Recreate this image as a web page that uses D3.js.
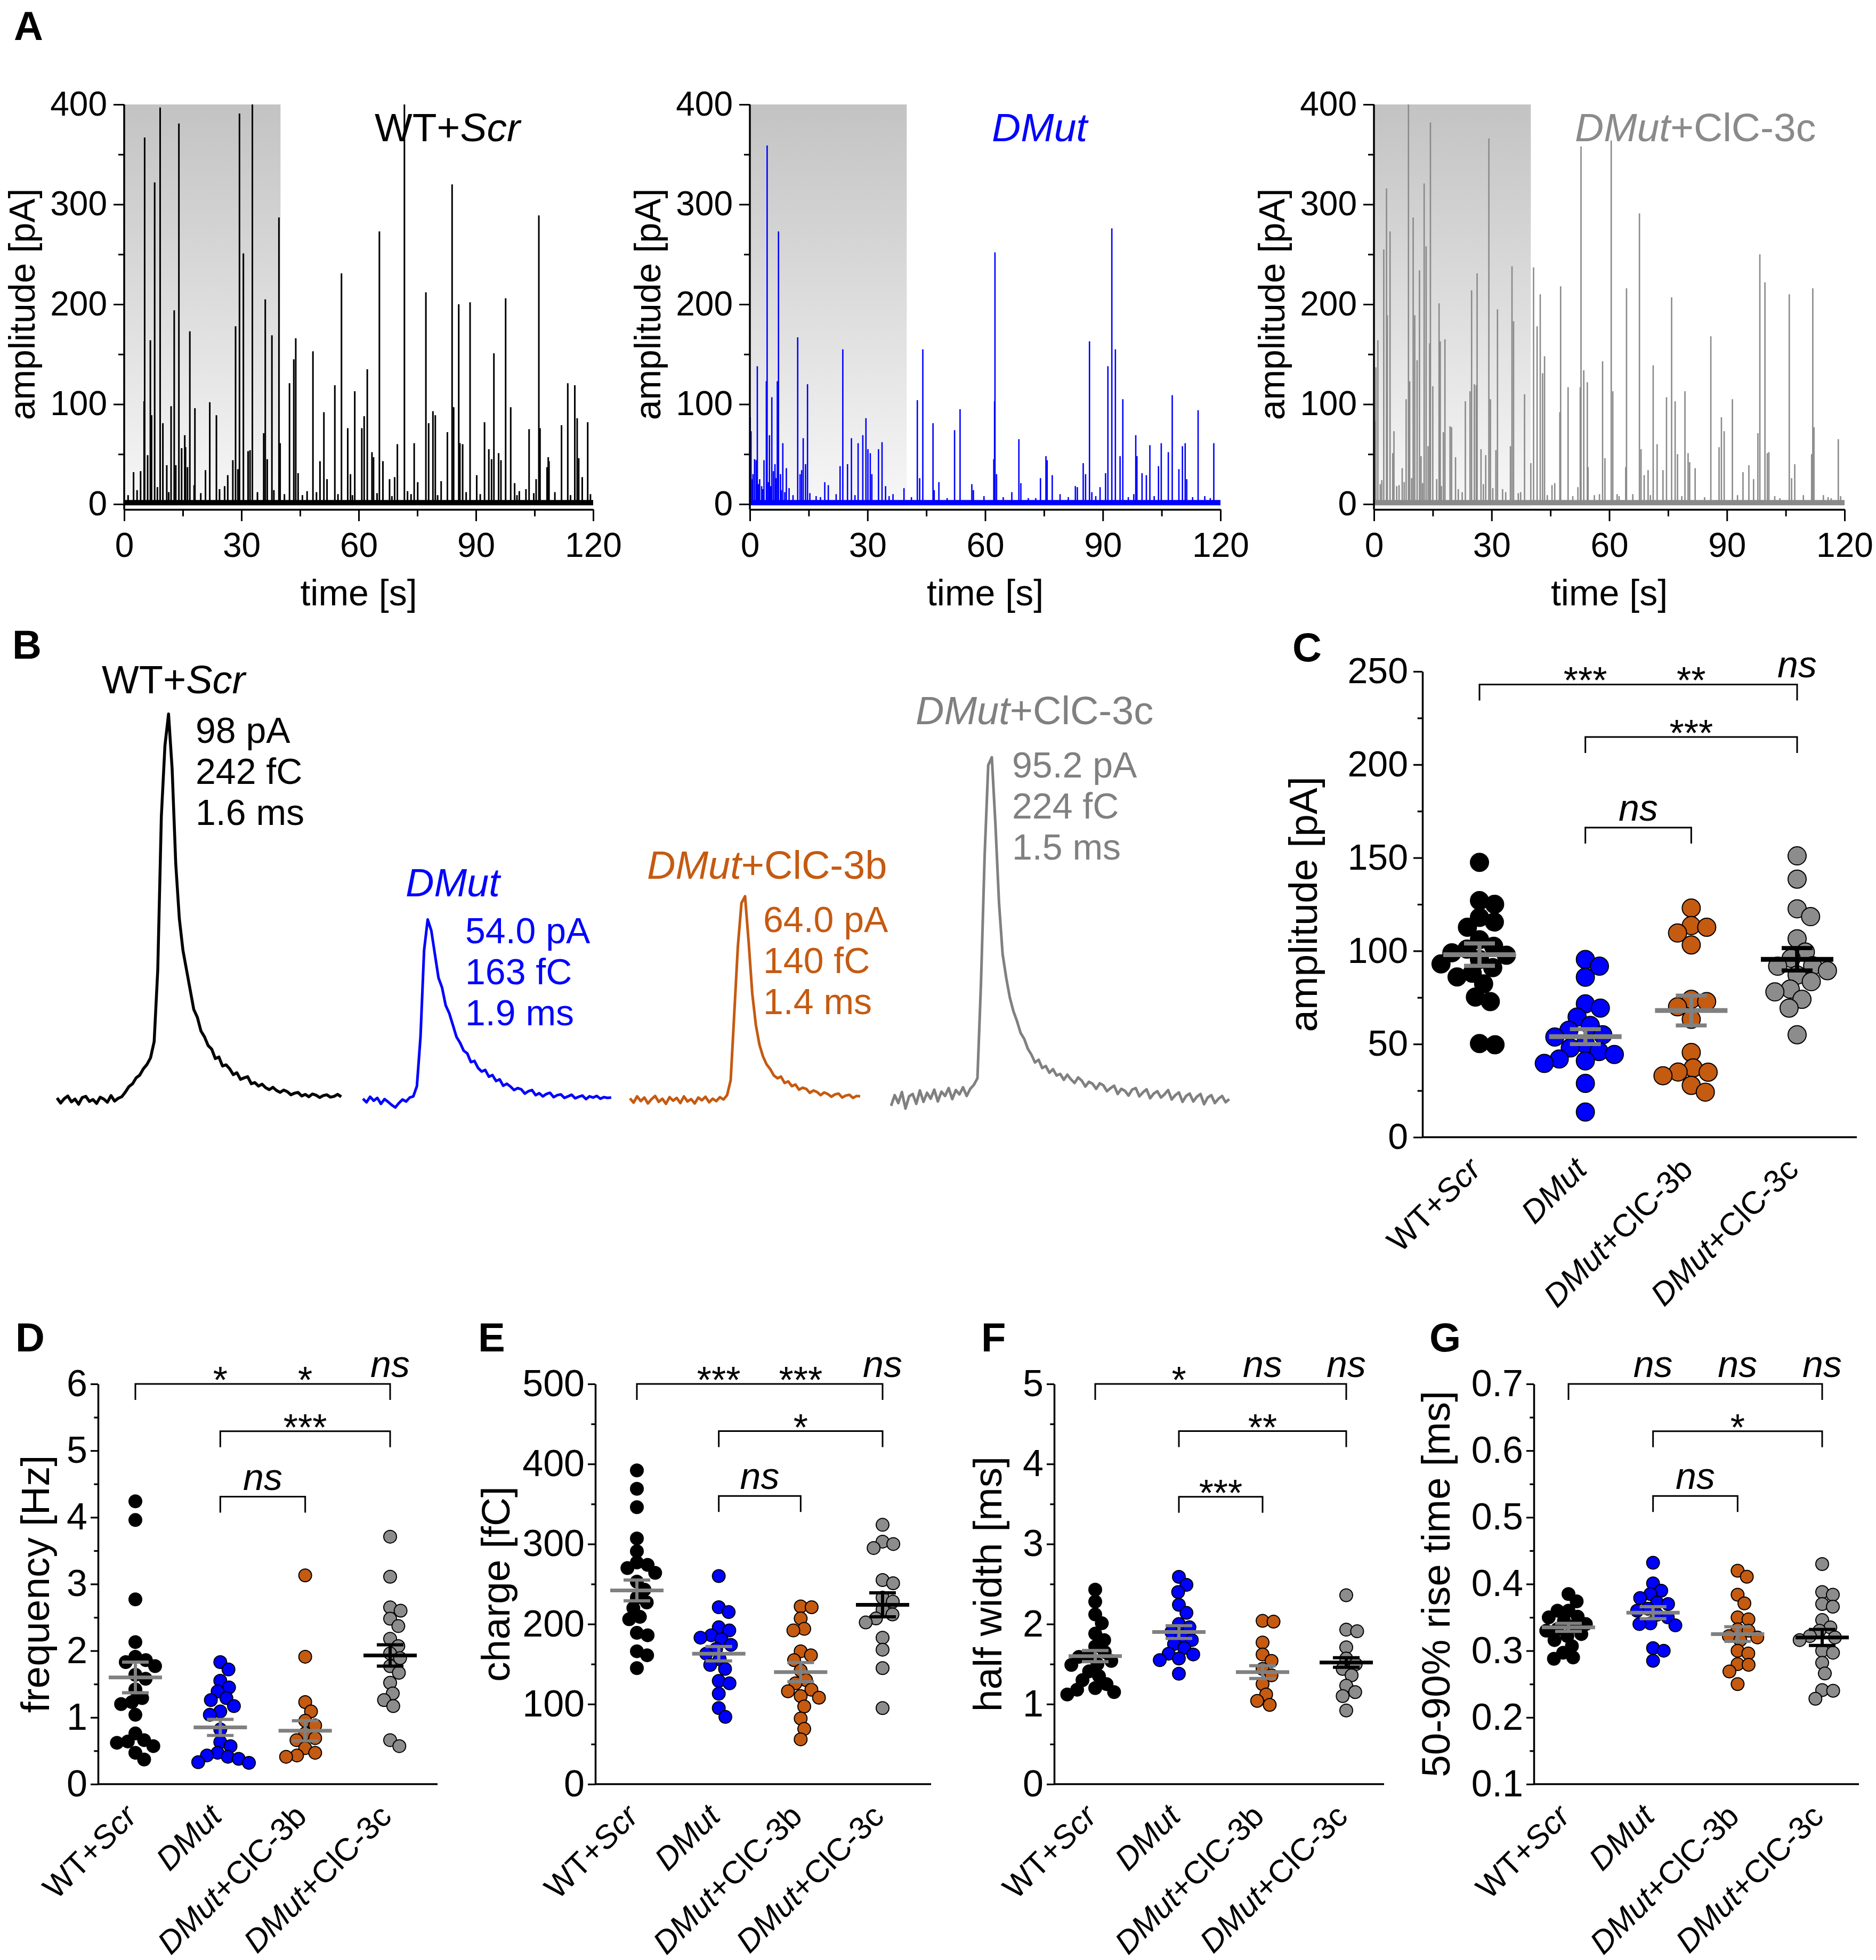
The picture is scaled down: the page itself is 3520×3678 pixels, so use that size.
<!DOCTYPE html>
<html><head><meta charset="utf-8">
<script src="https://cdn.jsdelivr.net/npm/d3@7/dist/d3.min.js"></script>
<style>html,body{margin:0;padding:0;background:#fff}</style>
</head><body>
<svg id="fig" xmlns="http://www.w3.org/2000/svg" width="3520" height="3678"></svg>
<script>
const FONT = "'Liberation Sans', Arial, Helvetica, sans-serif";

// ---------------- shared categories ----------------
const groups = ["WT+Scr", "DMut", "DMut+ClC-3b", "DMut+ClC-3c"];
const groupLabelParts = [[["WT+", false], ["Scr", true]], [["DMut", true]], [["DMut", true], ["+ClC-3b", false]], [["DMut", true], ["+ClC-3c", false]]];
const groupColors = ["#000000", "#0000ff", "#c55a11", "#8c8c8c"];
const meanColors = ["#808080", "#808080", "#808080", "#000000"];

// ---------------- panel A: event amplitudes [time s, amplitude pA] ----------------
const timeTicks = [0, 30, 60, 90, 120];
const timeMinor = [15, 45, 75, 105];
const ampTicksA = [0, 100, 200, 300, 400];
const ampMinorA = [50, 150, 250, 350];
const stimWindow = [0, 40];
const wtEvents = [[1.0,9],[2.4,32],[4.2,33],[5.1,103],[5.24,367],[6.0,49],[6.7,164],[7.0,89],[7.8,322],[9.2,397],[9.9,81],[10.9,39],[12.0,98],[12.8,194],[13.2,39],[14.0,381],[14.7,56],[15.5,69],[15.7,57],[16.2,37],[16.8,173],[17.9,19],[18.1,96],[20.8,34],[21.9,102],[23.6,89],[25.7,18],[26.5,29],[27.8,44],[28.5,178],[29.1,35],[29.5,391],[30.5,251],[31.7,53],[32.2,54],[32.8,400],[35.7,71],[36.1,205],[36.6,45],[37.8,169],[39.6,287],[39.9,61],[42.3,121],[43.4,145],[43.9,166],[44.5,31],[46.8,13],[48.3,153],[50.1,43],[51.1,92],[51.9,25],[53.9,119],[55.6,231],[57.2,76],[57.9,30],[59.0,113],[60.8,76],[61.4,88],[62.2,135],[63.4,52],[63.8,47],[65.3,273],[66.2,43],[67.9,25],[69.2,27],[69.9,60],[71.7,400],[72.5,13],[74.2,61],[75.1,22],[77.2,212],[77.9,81],[79.0,93],[79.6,89],[81.1,23],[82.7,72],[83.9,320],[84.3,97],[85.6,200],[85.9,61],[86.6,60],[88.5,202],[90.2,29],[92.2,82],[93.3,55],[94.0,45],[94.6,151],[95.8,51],[96.4,44],[97.6,206],[98.9,97],[99.9,21],[101.1,13],[102.8,15],[103.6,75],[105.4,25],[106.1,289],[106.4,76],[108.2,37],[108.5,47],[108.7,43],[111.9,79],[113.5,121],[115.3,119],[115.9,86],[116.3,46],[117.2,27],[118.6,82],[3.3,14],[8.5,17],[11.4,12],[19.6,11],[24.4,15],[34.1,12],[38.3,14],[41.0,10],[45.6,9],[49.2,12],[54.7,10],[58.4,9],[64.7,11],[68.5,8],[73.4,10],[80.2,9],[87.5,12],[91.1,10],[100.5,9],[104.8,11],[110.2,12],[114.2,9],[119.3,10]];
const dmutEvents = [[0.1,87],[0.3,73],[0.8,30],[1.2,45],[1.6,44],[1.9,138],[2.5,25],[3.0,18],[3.6,44],[4.2,123],[4.4,359],[5.0,69],[5.6,107],[6.0,33],[6.4,40],[7.0,123],[7.3,273],[7.8,30],[8.4,61],[9.3,36],[10.0,16],[12.2,167],[12.8,30],[13.2,34],[13.6,66],[14.2,40],[14.7,120],[16.9,8],[19.1,22],[20.0,19],[22.0,10],[23.0,38],[23.7,155],[24.9,40],[25.9,66],[27.6,61],[28.8,69],[29.6,86],[30.1,55],[30.7,51],[31.1,30],[32.8,55],[33.7,62],[34.6,18],[36.5,10],[39.3,16],[42.7,104],[43.3,26],[44.1,155],[46.7,81],[47.0,14],[48.2,22],[52.2,74],[53.6,95],[56.6,20],[57.0,14],[62.2,45],[62.4,103],[62.5,252],[62.9,30],[66.8,12],[68.6,65],[69.1,21],[72.9,6],[74.1,26],[75.5,48],[75.8,44],[77.1,29],[79.1,10],[83.0,18],[83.5,17],[85.0,41],[85.6,30],[86.6,163],[87.2,12],[89.3,17],[90.7,31],[91.3,138],[92.3,276],[93.2,155],[94.4,48],[95.1,105],[97.9,10],[98.4,69],[98.7,48],[100.0,31],[101.1,29],[102.0,59],[104.2,38],[104.9,61],[106.7,52],[107.7,109],[109.4,35],[110.3,58],[111.0,61],[111.4,25],[114.3,94],[116.0,8],[118.3,61],[0.6,25],[2.2,20],[3.3,15],[4.7,22],[5.3,18],[6.7,26],[8.0,14],[8.9,12],[11.0,9],[15.3,11],[18.0,7],[26.8,9],[35.5,8],[41.2,7],[50.3,6],[59.7,8],[64.6,7],[71.0,6],[81.2,7],[88.2,8],[96.5,7],[103.1,8],[112.9,7],[117.4,6]];
const clc3cEvents = [[0.4,83],[0.5,137],[1.0,164],[1.6,20],[2.5,255],[3.2,316],[3.4,189],[4.1,273],[4.8,51],[5.1,73],[5.8,18],[7.2,36],[7.7,22],[8.2,105],[8.8,400],[9.1,123],[10.0,287],[10.4,189],[11.0,144],[11.6,234],[12.0,48],[12.8,321],[13.3,258],[13.8,58],[14.2,161],[14.4,382],[15.0,118],[16.0,25],[16.6,201],[16.9,163],[17.7,72],[18.1,165],[19.4,78],[19.8,77],[20.8,47],[22.5,12],[23.3,103],[24.5,113],[24.9,214],[25.6,120],[26.1,119],[26.3,231],[27.3,55],[28.5,49],[29.3,366],[29.7,105],[31.1,54],[31.5,195],[32.8,15],[34.8,58],[35.2,238],[35.6,183],[37.4,12],[38.4,110],[40.0,41],[40.7,237],[41.6,178],[42.4,210],[43.0,131],[43.5,148],[45.4,19],[46.1,21],[47.4,92],[47.6,218],[49.5,117],[52.0,17],[52.6,117],[52.8,358],[53.5,134],[54.4,122],[54.6,37],[57.5,10],[58.3,143],[58.9,46],[60.5,364],[60.9,113],[62.5,8],[64.2,37],[64.4,216],[66.0,10],[67.7,291],[68.1,55],[68.9,29],[69.9,34],[71.2,139],[72.2,60],[73.7,34],[74.6,107],[75.9,207],[76.8,103],[77.4,50],[79.3,113],[80.1,51],[80.5,42],[81.9,36],[85.9,168],[88.0,57],[88.6,87],[89.3,73],[91.4,105],[94.1,32],[95.6,39],[96.8,25],[97.9,71],[98.4,250],[99.7,222],[100.3,51],[100.7,52],[103.5,6],[105.9,210],[106.5,26],[107.3,40],[111.6,50],[111.9,216],[112.2,77],[114.6,9],[116.6,6],[118.4,65],[2.0,24],[6.4,19],[9.6,26],[12.4,21],[17.2,18],[21.5,15],[27.9,20],[30.3,16],[33.6,12],[36.8,11],[44.2,9],[50.7,8],[56.2,9],[62.0,10],[70.5,9],[78.5,8],[84.3,7],[92.7,9],[102.2,8],[109.5,9],[115.8,7],[119.0,8]];

// ---------------- panel B: averaged traces (pA), sampled every 0.25 ms ----------------
const traceDt = 0.25;
const wtTrace = [0.5,-0.8,0.3,1.0,-0.5,0.2,-1.1,0.6,0.9,-0.4,0.1,-0.9,0.7,0.2,-0.6,1.1,-0.3,0.4,0.8,2.0,3.4,4.1,5.6,6.3,7.9,9.0,10.7,14.8,33,72,90,98,84,60,46,38,33,28,23,21,17.5,16,13.8,12.9,10.5,10.9,8.6,8.9,7.9,6.4,6.9,5.2,5.6,5.9,4.1,4.4,3.5,4.0,3.1,2.6,3.2,2.4,1.9,2.5,2.1,1.3,1.7,1.9,1.0,1.4,0.8,1.5,1.2,0.6,1.1,1.3,0.7,0.9,1.4,0.8];
const dmutTrace = [0.3,-0.6,0.8,-0.2,0.5,-1.0,0.2,-0.5,-1.3,-1.9,-0.8,0.1,-0.4,0.6,0.9,3.5,16,38,45.8,43,37,31,28.5,24,22,19,16,14.5,12.5,11.8,9.6,9.9,8.1,7.2,7.6,5.9,6.3,4.8,5.2,3.6,4.1,3.4,2.5,3.0,2.7,1.6,2.2,2.5,1.2,1.7,0.9,1.5,1.8,0.7,1.2,1.4,0.5,0.9,1.3,0.4,0.8,1.1,0.2,0.9,0.6,1.0,0.3,0.7,0.5,0.6];
const clc3bTrace = [0.4,-0.7,0.9,-0.3,0.6,-0.9,0.2,1.0,-0.5,0.3,-1.0,0.7,-0.2,0.5,-0.8,0.9,-0.4,0.2,-0.9,0.6,-0.1,0.8,-0.6,0.3,-0.3,0.7,0.1,1.2,5,22,39,50,51.7,40,27,19,14,11,9,7.8,6.2,5.5,5.9,4.3,4.7,3.5,3.9,2.6,3.1,2.8,1.8,2.4,2.0,1.2,1.9,1.5,0.8,1.4,1.6,0.6,1.1,1.3,0.5,1.0,0.9];
const clc3cTrace = [-1.5,1.2,-0.8,2.0,-2.2,0.9,1.5,-1.0,2.4,-0.5,1.8,0.3,2.6,-0.4,2.1,1.0,3.0,0.2,2.5,1.4,3.2,1.0,2.8,3.8,5.5,30,62,85,87,70,50,37,31,26,22.5,20,17,15.5,13,11.5,9.5,10.2,8.1,8.6,6.9,7.8,6.2,6.6,5.1,6.4,5.2,4.3,5.7,4.9,3.4,4.6,4.1,2.8,4.2,3.7,2.2,3.0,3.6,1.5,2.8,2.3,1.1,2.6,3.0,0.9,1.9,2.7,0.4,1.6,2.2,0.6,1.4,2.5,0.1,1.2,1.9,-0.5,1.0,1.6,-0.4,0.8,1.5,-1.1,0.6,1.2,-0.8,0.3,1.0,-0.6,0.2];
const traceStats = [["98 pA","242 fC","1.6 ms"],["54.0 pA","163 fC","1.9 ms"],["64.0 pA","140 fC","1.4 ms"],["95.2 pA","224 fC","1.5 ms"]];

// ---------------- panel C: amplitude [pA] ----------------
const ampC = [
  [147.5,127,125,118,115.5,112.7,106,102.5,101,99,97.7,95.4,93,91,88,86,82.3,75.2,72.8,50.3,49.6],
  [95.4,91.8,85.9,71.6,69.3,64.5,60,57.4,55,53.8,50,47.9,46,44.4,42,41,39.6,28.9,13.5],
  [123,113.6,112.7,109.6,103.2,74,72.8,70,63.3,45.5,37.2,35,34.9,33,27.8,24.2],
  [151,138.5,122.6,118.4,106.5,99.4,96,92,91.8,89.4,87,83.5,79.5,78,74,69.3,55]];
const ampCMean = [98, 54, 68, 95.5];
const ampCSem = [6, 4, 8, 6];
const ampTicksC = [0,50,100,150,200,250];
const ampMinorC = [25,75,125,175,225];

// ---------------- panel D: frequency [Hz] ----------------
const freqD = [
  [4.24,3.96,2.77,2.13,1.91,1.86,1.83,1.77,1.64,1.58,1.42,1.29,1.23,1.2,1.04,0.76,0.66,0.64,0.62,0.57,0.47,0.37],
  [1.83,1.72,1.55,1.45,1.39,1.29,1.26,1.17,1.09,1.04,0.82,0.63,0.57,0.47,0.43,0.41,0.38,0.33,0.32],
  [3.13,1.91,1.23,1.09,0.95,0.88,0.76,0.69,0.66,0.54,0.47,0.43,0.41],
  [3.71,3.11,2.65,2.6,2.48,2.37,2.18,2.07,1.96,1.89,1.77,1.67,1.52,1.36,1.26,1.17,0.66,0.57]];
const freqDMean = [1.6, 0.85, 0.8, 1.93];
const freqDSem = [0.23, 0.12, 0.15, 0.16];
const freqTicks = [0,1,2,3,4,5,6];
const freqMinor = [0.5,1.5,2.5,3.5,4.5,5.5];

// ---------------- panel E: charge [fC] ----------------
const chargeE = [
  [392,369,346,307,291,277,274,270,264,253,243,233,227,220,209,206,189,186,166,161,145],
  [260,221,215,196,192,186,183,181,174,169,163,156,149,144,129,126,113,95,84],
  [222,221,207,194,192,166,161,155,142,130,126,118,116,110,108,97,82,69,56],
  [324,303,300,295,255,251,233,228,218,212,207,202,183,168,145,95]];
const chargeEMean = [242, 163, 140, 224];
const chargeESem = [13, 9, 12, 15];
const chargeTicks = [0,100,200,300,400,500];
const chargeMinor = [50,150,250,350,450];

// ---------------- panel F: half width [ms] ----------------
const widthF = [
  [2.43,2.28,2.12,2.01,1.88,1.8,1.72,1.65,1.6,1.59,1.54,1.5,1.49,1.41,1.35,1.3,1.25,1.2,1.18,1.15,1.12],
  [2.59,2.49,2.4,2.24,2.14,2.0,1.96,1.9,1.85,1.8,1.75,1.7,1.63,1.62,1.57,1.55,1.38],
  [2.04,2.03,1.77,1.62,1.54,1.44,1.36,1.25,1.12,1.04,0.99],
  [2.36,1.93,1.91,1.71,1.57,1.5,1.44,1.36,1.23,1.15,1.1,0.92]];
const widthFMean = [1.6, 1.9, 1.4, 1.52];
const widthFSem = [0.07, 0.08, 0.08, 0.06];
const widthTicks = [0,1,2,3,4,5];
const widthMinor = [0.5,1.5,2.5,3.5,4.5];

// ---------------- panel G: 50-90% rise time [ms] ----------------
const riseG = [
  [0.385,0.374,0.36,0.36,0.351,0.35,0.345,0.34,0.336,0.332,0.33,0.325,0.322,0.316,0.307,0.297,0.29,0.288],
  [0.432,0.401,0.39,0.385,0.379,0.372,0.37,0.363,0.36,0.354,0.35,0.341,0.34,0.338,0.304,0.30,0.285],
  [0.42,0.411,0.384,0.371,0.35,0.347,0.332,0.33,0.322,0.32,0.316,0.30,0.296,0.28,0.279,0.269,0.25],
  [0.43,0.388,0.384,0.37,0.366,0.346,0.335,0.33,0.322,0.32,0.316,0.30,0.297,0.282,0.266,0.241,0.24,0.228]];
const riseGMean = [0.335, 0.357, 0.325, 0.320];
const riseGSem = [0.006, 0.009, 0.011, 0.012];
const riseTicks = [0.1,0.2,0.3,0.4,0.5,0.6,0.7];
const riseMinor = [0.15,0.25,0.35,0.45,0.55,0.65];

// ---------------- significance annotations ----------------
const sigC = [{a:0,b:3,level:243,labels:[[1,"***"],[2,"**"],[3,"ns"]]},{a:1,b:3,level:214.8,labels:[["mid","***"]]},{a:1,b:2,level:166.2,labels:[["mid","ns"]]}];
const sigD = [{a:0,b:3,level:6.0,labels:[[1,"*"],[2,"*"],[3,"ns"]]},{a:1,b:3,level:5.29,labels:[["mid","***"]]},{a:1,b:2,level:4.31,labels:[["mid","ns"]]}];
const sigE = [{a:0,b:3,level:500,labels:[[1,"***"],[2,"***"],[3,"ns"]]},{a:1,b:3,level:441,labels:[["mid","*"]]},{a:1,b:2,level:360,labels:[["mid","ns"]]}];
const sigF = [{a:0,b:3,level:5.0,labels:[[1,"*"],[2,"ns"],[3,"ns"]]},{a:1,b:3,level:4.41,labels:[["mid","**"]]},{a:1,b:2,level:3.59,labels:[["mid","***"]]}];
const sigG = [{a:0,b:3,level:0.70,labels:[[1,"ns"],[2,"ns"],[3,"ns"]]},{a:1,b:3,level:0.629,labels:[["mid","*"]]},{a:1,b:2,level:0.532,labels:[["mid","ns"]]}];

// =================== drawing ===================
const svg = d3.select("#fig");
svg.append("rect").attr("width",3520).attr("height",3678).attr("fill","#fff");
const defs = svg.append("defs");
const grad = defs.append("linearGradient").attr("id","shade").attr("x1",0).attr("y1",0).attr("x2",0).attr("y2",1);
grad.append("stop").attr("offset","0%").attr("stop-color","#c3c3c3");
grad.append("stop").attr("offset","100%").attr("stop-color","#f7f7f7");

function rich(sel, parts){
  parts.forEach(([s,it]) => sel.append("tspan").text(s).attr("font-style", it ? "italic" : "normal"));
  return sel;
}
function txt(g, x, y, size, opts={}){
  const t = g.append("text").attr("x",x).attr("y",y).attr("font-size",size).attr("font-family",FONT)
    .attr("fill",opts.fill||"#000").attr("text-anchor",opts.anchor||"start");
  if(opts.weight) t.attr("font-weight",opts.weight);
  if(opts.italic) t.attr("font-style","italic");
  return t;
}
function styleAxis(a, size, sw){
  a.attr("font-size",size).attr("font-family",FONT);
  a.selectAll("line,path").attr("stroke","#000").attr("stroke-width",sw);
  a.selectAll("text").attr("fill","#000");
}

// panel letters
[["A",26,75],["B",23,1236],["C",2425,1241],["D",29,2536],["E",897,2536],["F",1841,2536],["G",2682,2536]]
  .forEach(([l,x,y]) => txt(svg,x,y,76,{weight:"bold"}).text(l));

// ---------- Panel A ----------
const panelsA = [
  {x0:233, x1:1113, events:wtEvents, color:"#000000", sw:3, title:[["WT+",false],["Scr",true]], titleX:703, titleColor:"#000"},
  {x0:1407, x1:2290, events:dmutEvents, color:"#0000ff", sw:2.6, title:[["DMut",true]], titleX:1861, titleColor:"#0000ff"},
  {x0:2578, x1:3461, events:clc3cEvents, color:"#8a8a8a", sw:2.6, title:[["DMut",true],["+ClC-3c",false]], titleX:2955, titleColor:"#8a8a8a"}];
panelsA.forEach(p => {
  const g = svg.append("g");
  const x = d3.scaleLinear().domain([0,120]).range([p.x0,p.x1]);
  const y = d3.scaleLinear().domain([0,400]).range([946,196]);
  const axisY = 956;
  g.append("rect").attr("x",x(stimWindow[0])).attr("y",y(400)).attr("width",x(stimWindow[1])-x(stimWindow[0]))
    .attr("height",y(0)-y(400)+6).attr("fill","url(#shade)");
  g.append("line").attr("x1",x(0)).attr("x2",x(120)).attr("y1",y(1.5)).attr("y2",y(1.5))
    .attr("stroke",p.color).attr("stroke-width",10);
  g.selectAll("line.ev").data(p.events).join("line").attr("class","ev")
    .attr("x1",d=>x(d[0])).attr("x2",d=>x(d[0])).attr("y1",y(0)).attr("y2",d=>y(d[1]))
    .attr("stroke",p.color).attr("stroke-width",p.sw);
  const ya = g.append("g").attr("transform",`translate(${x(0)},0)`)
    .call(d3.axisLeft(y).tickValues(ampTicksA).tickSize(20).tickPadding(12).tickSizeOuter(0));
  ya.select(".domain").remove();
  const yam = g.append("g").attr("transform",`translate(${x(0)},0)`)
    .call(d3.axisLeft(y).tickValues(ampMinorA).tickFormat("").tickSize(11).tickSizeOuter(0));
  yam.select(".domain").remove();
  styleAxis(ya,64,3); styleAxis(yam,64,3);
  g.append("line").attr("x1",x(0)).attr("x2",x(0)).attr("y1",y(400)).attr("y2",axisY).attr("stroke","#000").attr("stroke-width",3.5);
  const xa = g.append("g").attr("transform",`translate(0,${axisY})`)
    .call(d3.axisBottom(x).tickValues(timeTicks).tickSize(22).tickPadding(22).tickSizeOuter(0));
  const xam = g.append("g").attr("transform",`translate(0,${axisY})`)
    .call(d3.axisBottom(x).tickValues(timeMinor).tickFormat("").tickSize(13).tickSizeOuter(0));
  xam.select(".domain").remove();
  styleAxis(xa,64,3); styleAxis(xam,64,3);
  xa.select(".domain").attr("stroke-width",3.5);
  txt(g,(p.x0+p.x1)/2,1136,68,{anchor:"middle"}).text("time [s]");
  txt(g,0,0,68,{anchor:"middle"}).attr("transform",`translate(${p.x0-190},571) rotate(-90)`).attr("dy","0.32em").text("amplitude [pA]");
  rich(txt(g,p.titleX,265,75,{fill:p.titleColor}), p.title);
});

// ---------- Panel B ----------
const bTraces = [
  {vals:wtTrace, color:"#000000", x0:107, w:5.5,
   label:[["WT+",false],["Scr",true]], lx:191, ly:1301, sx:367, sy:1394},
  {vals:dmutTrace, color:"#0000ff", x0:681, w:5,
   label:[["DMut",true]], lx:761, ly:1682, sx:873, sy:1770},
  {vals:clc3bTrace, color:"#c55a11", x0:1182, w:5,
   label:[["DMut",true],["+ClC-3b",false]], lx:1214, ly:1649, sx:1432, sy:1749},
  {vals:clc3cTrace, color:"#808080", x0:1672, w:5,
   label:[["DMut",true],["+ClC-3c",false]], lx:1718, ly:1359, sx:1899, sy:1459}];
const yB = d3.scaleLinear().domain([0,100]).range([2064, 2064-739]);
bTraces.forEach((tr,k) => {
  const xB = d3.scaleLinear().domain([0,1]).range([tr.x0, tr.x0+27]);
  const line = d3.line().x((d,i)=>xB(i*traceDt)).y(d=>yB(d));
  svg.append("path").attr("d",line(tr.vals)).attr("fill","none").attr("stroke",tr.color)
    .attr("stroke-width",tr.w).attr("stroke-linejoin","round");
  rich(txt(svg,tr.lx,tr.ly,74,{fill:tr.color}), tr.label);
  traceStats[k].forEach((s,j) => txt(svg,tr.sx,tr.sy+j*77,68,{fill:tr.color}).text(s));
});

// ---------- scatter panels ----------
function swarm(vals, y, D){
  const pts = vals.map((v,i)=>({v, y:y(v), i})).sort((a,b)=>a.y-b.y);
  const placed = [];
  pts.forEach(p => {
    const near = placed.filter(q => Math.abs(q.y-p.y) < D);
    const cands = [0];
    near.forEach(q => { const dx = Math.sqrt(D*D - (q.y-p.y)**2); cands.push(q.x+dx, q.x-dx); });
    cands.sort((a,b)=>Math.abs(a)-Math.abs(b) || b-a);
    for(const c of cands){
      if(near.every(q => (q.x-c)**2 + (q.y-p.y)**2 >= D*D - 1e-6)){ p.x = c; break; }
    }
    placed.push(p);
  });
  return placed;
}

function scatterPanel(c){
  const g = svg.append("g");
  const x = d3.scalePoint().domain(d3.range(groups.length)).range([c.x0+c.padL, c.x0+c.padR]);
  const y = d3.scaleLinear().domain(c.domain).range([c.y0, c.yTop]);
  const ya = g.append("g").attr("transform",`translate(${c.x0},0)`)
    .call(d3.axisLeft(y).tickValues(c.major).tickFormat(c.fmt).tickSize(c.tick).tickPadding(c.pad).tickSizeOuter(0));
  const yam = g.append("g").attr("transform",`translate(${c.x0},0)`)
    .call(d3.axisLeft(y).tickValues(c.minor).tickFormat("").tickSize(c.tick*0.55).tickSizeOuter(0));
  yam.select(".domain").remove();
  styleAxis(ya,c.tickFont,3.2); styleAxis(yam,c.tickFont,3.2);
  ya.select(".domain").attr("stroke-width",3.5);
  g.append("line").attr("x1",c.x0).attr("x2",c.x1).attr("y1",c.y0).attr("y2",c.y0).attr("stroke","#000").attr("stroke-width",3.5);
  groups.forEach((gname,i) => {
    const t = g.append("text").attr("transform",`translate(${x(i)+6},${c.y0+64}) rotate(-45)`)
      .attr("text-anchor","end").attr("font-size",60).attr("font-family",FONT).attr("fill","#000");
    rich(t, groupLabelParts[i]);
  });
  c.vals.forEach((vals,i) => {
    const pts = swarm(vals, y, c.r*1.72);
    g.selectAll(null).data(pts).join("circle")
      .attr("cx",d=>x(i)+d.x).attr("cy",d=>d.y).attr("r",c.r)
      .attr("fill",groupColors[i]).attr("stroke","#000").attr("stroke-width",2);
  });
  c.means.forEach((m,i) => {
    const cx = x(i), s = c.sems[i];
    g.append("line").attr("x1",cx-c.mw).attr("x2",cx+c.mw).attr("y1",y(m)).attr("y2",y(m))
      .attr("stroke",meanColors[i]).attr("stroke-width",c.sw);
    g.append("path").attr("d",`M${cx-c.cw},${y(m+s)}H${cx+c.cw}M${cx},${y(m+s)}V${y(m-s)}M${cx-c.cw},${y(m-s)}H${cx+c.cw}`)
      .attr("fill","none").attr("stroke",meanColors[i]).attr("stroke-width",c.sw*0.85);
  });
  c.sig.forEach(b => {
    const yy = y(b.level);
    g.append("path").attr("d",`M${x(b.a)},${yy+30}V${yy}H${x(b.b)}V${yy+30}`)
      .attr("fill","none").attr("stroke","#000").attr("stroke-width",3);
    b.labels.forEach(([pos,label]) => {
      const lx = pos === "mid" ? (x(b.a)+x(b.b))/2 : x(pos);
      if(label === "ns") txt(g,lx,yy-13,70,{anchor:"middle",italic:true}).text("ns");
      else txt(g,lx,yy+17,70,{anchor:"middle"}).text(label);
    });
  });
  txt(g,0,0,75,{anchor:"middle"}).attr("transform",`translate(${c.labelX},${(c.y0+c.yTop)/2}) rotate(-90)`)
    .attr("dy","0.32em").text(c.ylabel);
}

const intFmt = d3.format("d");
scatterPanel({x0:2669, x1:3484, padL:107, padR:703, y0:2134, yTop:1260, domain:[0,250], major:ampTicksC, minor:ampMinorC,
  fmt:intFmt, tick:17, pad:10, tickFont:68, vals:ampC, means:ampCMean, sems:ampCSem, r:17, mw:68, cw:29, sw:9,
  sig:sigC, ylabel:"amplitude [pA]", labelX:2447});
scatterPanel({x0:184, x1:821, padL:70, padR:548, y0:3348, yTop:2597, domain:[0,6], major:freqTicks, minor:freqMinor,
  fmt:intFmt, tick:14, pad:6, tickFont:70, vals:freqD, means:freqDMean, sems:freqDSem, r:12, mw:50, cw:25, sw:7,
  sig:sigD, ylabel:"frequency [Hz]", labelX:68});
scatterPanel({x0:1117, x1:1747, padL:78, padR:539, y0:3348, yTop:2597, domain:[0,500], major:chargeTicks, minor:chargeMinor,
  fmt:intFmt, tick:14, pad:6, tickFont:70, vals:chargeE, means:chargeEMean, sems:chargeESem, r:12, mw:50, cw:25, sw:7,
  sig:sigE, ylabel:"charge [fC]", labelX:932});
scatterPanel({x0:1978, x1:2597, padL:77, padR:548, y0:3348, yTop:2597, domain:[0,5], major:widthTicks, minor:widthMinor,
  fmt:intFmt, tick:14, pad:6, tickFont:70, vals:widthF, means:widthFMean, sems:widthFSem, r:12, mw:50, cw:25, sw:7,
  sig:sigF, ylabel:"half width [ms]", labelX:1855});
scatterPanel({x0:2878, x1:3488, padL:65, padR:541, y0:3348, yTop:2597, domain:[0.1,0.7], major:riseTicks, minor:riseMinor,
  fmt:d3.format(".1f"), tick:14, pad:6, tickFont:70, vals:riseG, means:riseGMean, sems:riseGSem, r:12, mw:50, cw:25, sw:7,
  sig:sigG, ylabel:"50-90% rise time [ms]", labelX:2696});
</script>
</body></html>
